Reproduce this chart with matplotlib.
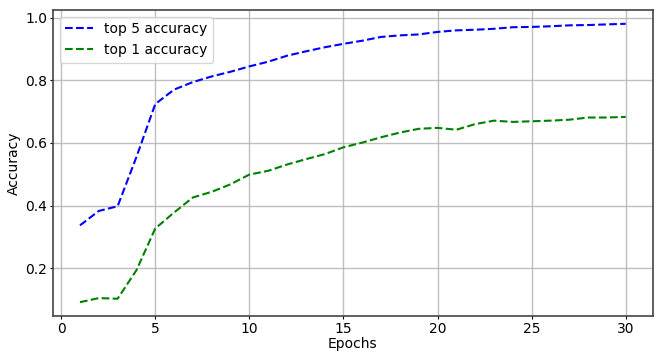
import matplotlib
matplotlib.use("Agg")
import matplotlib.pyplot as plt

# ---------- Data ----------
epochs = list(range(1, 31))
top5_acc = [0.337, 0.383, 0.398, 0.555, 0.724, 0.770, 0.794, 0.812, 0.827, 0.844,
            0.859, 0.878, 0.892, 0.905, 0.916, 0.926, 0.938, 0.943, 0.946, 0.954,
            0.959, 0.961, 0.964, 0.969, 0.970, 0.972, 0.975, 0.976, 0.978, 0.980]
top1_acc = [0.092, 0.105, 0.103, 0.194, 0.327, 0.378, 0.426, 0.444, 0.468, 0.499,
            0.511, 0.531, 0.548, 0.564, 0.586, 0.601, 0.618, 0.633, 0.645, 0.648,
            0.642, 0.660, 0.671, 0.667, 0.669, 0.671, 0.674, 0.681, 0.681, 0.683]

fig = plt.figure(figsize=(6.67, 3.52), dpi=100)
ax = fig.add_axes([0.079, 0.102, 0.900, 0.870])

ax.plot(epochs, top5_acc, "b--", label="top 5 accuracy")
ax.plot(epochs, top1_acc, "g--", label="top 1 accuracy")

ax.set_xlabel("Epochs", labelpad=1)
ax.set_ylabel("Accuracy", labelpad=3)
ax.tick_params(length=2, pad=2)
for sp in ax.spines.values():
    sp.set_color("#444444")
    sp.set_linewidth(1.2)
ax.grid(True, color="#b0b0b0", linewidth=1.0, alpha=0.8)
ax.legend(loc="upper left")

fig.savefig("out.png", dpi=100)
